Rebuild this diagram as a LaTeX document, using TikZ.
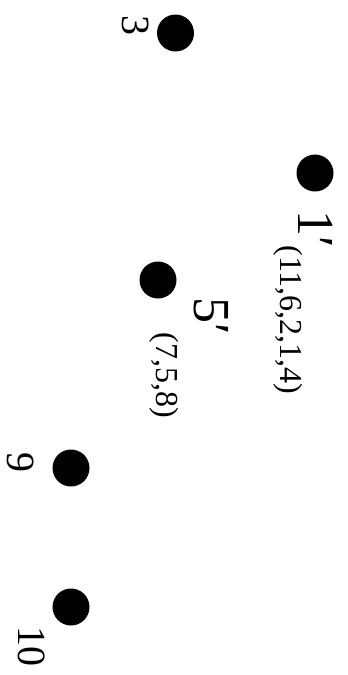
\documentclass[tikz,border=0pt]{standalone}
\usepackage{fontspec}
\setmainfont{Liberation Serif}
\usepackage{tikz}
\usetikzlibrary{positioning}

\begin{document}
\begin{tikzpicture}[
  x=1pt, y=-1pt,
  vertex/.style={circle, fill=black, minimum size=37pt, inner sep=0pt},
  tag/.style={rotate=-90, anchor=base, inner sep=0pt, text depth=0pt, font=\fontsize{40}{40}\selectfont},
  bigtag/.style={rotate=-90, anchor=base, inner sep=0pt, font=\fontsize{52}{52}\selectfont},
  subtag/.style={rotate=-90, anchor=base, inner sep=0pt, font=\fontsize{32}{32}\selectfont}
]
\useasboundingbox (0,0) rectangle (348,675);

\node[vertex] (v3) at (175.5,33) {};
\node[vertex] (v1) at (315,173) {};
\node[vertex] (v5) at (158,280) {};
\node[vertex] (v9) at (71,468) {};
\node[vertex] (v10) at (71,607) {};

\node[tag] (l3) at (122,25) {3};
\node[bigtag] (l1) at (298,229) {1′};
\node[subtag] (s1) at (280,320) {(11,6,2,1,4)};
\node[bigtag] (l5) at (194,316) {5′};
\node[subtag] (s5) at (156,375) {(7,5,8)};
\node[tag] (l9) at (8,462) {9};
\node[tag] (l10) at (18,646) {10};

\end{tikzpicture}
\end{document}
